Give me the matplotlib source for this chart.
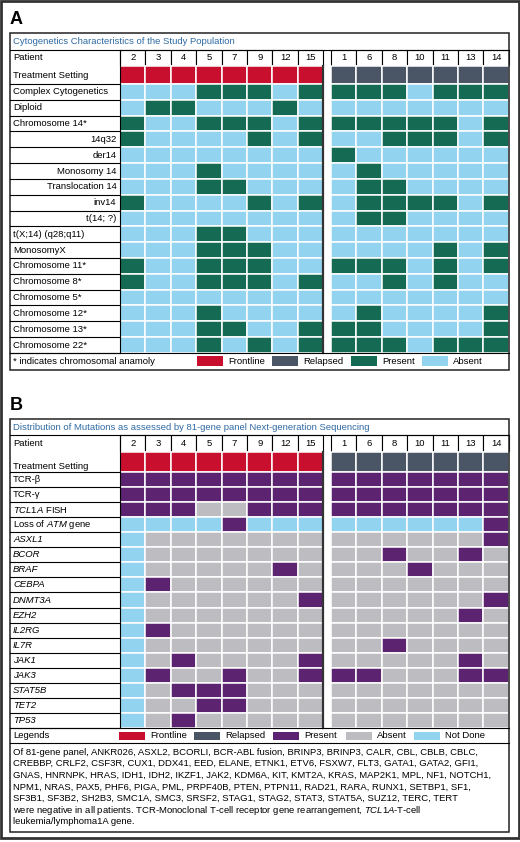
import matplotlib.pyplot as plt
from matplotlib.patches import Rectangle

plt.rcParams['font.family'] = ['Liberation Sans', 'DejaVu Sans']
plt.rcParams['mathtext.fontset'] = 'custom'
plt.rcParams['mathtext.it'] = 'Liberation Sans:italic'
plt.rcParams['mathtext.rm'] = 'Liberation Sans'

# patients
front_ids = ['2', '3', '4', '5', '7', '9', '12', '15']
relapse_ids = ['1', '6', '8', '10', '11', '13', '14']

# panel A: cytogenetics (1 = present, 0 = absent)
cyto_labels = ['Complex Cytogenetics', 'Diploid', 'Chromosome 14*', '14q32', 'der14',
               'Monosomy 14', 'Translocation 14', 'inv14', 't(14; ?)', 't(X;14) (q28;q11)',
               'MonosomyX', 'Chromosome 11*', 'Chromosome 8*', 'Chromosome 5*',
               'Chromosome 12*', 'Chromosome 13*', 'Chromosome 22*']
cyto_sub = ['14q32', 'der14', 'Monosomy 14', 'Translocation 14', 'inv14', 't(14; ?)']
cyto_front = ['00011101', '01100010', '10011101', '10000101', '00000000', '00010000',
              '00011000', '10000101', '00000000', '00011000', '00011100', '10011100',
              '10011101', '00000000', '00010000', '00011001', '00010101']
cyto_relapse = ['1110111', '0000000', '1111101', '0011101', '1000000', '0100000',
                '0110000', '0111101', '0110000', '0000000', '0000101', '1110101',
                '0010100', '0000000', '0100001', '1100001', '1110111']

# panel B: mutations (P = present, A = absent, N = not done)
mut_labels = ['TCR-β', 'TCR-γ', r'$\mathit{TCL1A}$ FISH', r'Loss of $\mathit{ATM}$ gene',
              'ASXL1', 'BCOR', 'BRAF', 'CEBPA', 'DNMT3A', 'EZH2', 'IL2RG', 'IL7R',
              'JAK1', 'JAK3', 'STAT5B', 'TET2', 'TP53']
mut_italic = ['ASXL1', 'BCOR', 'BRAF', 'CEBPA', 'DNMT3A', 'EZH2', 'IL2RG', 'IL7R',
              'JAK1', 'JAK3', 'STAT5B', 'TET2', 'TP53']
mut_front = ['PPPPPPPP', 'PPPPPPPP', 'PPPAAPPP', 'NNNNPNNN', 'NAAAAAAA', 'NAAAAAAA',
             'NAAAAAPA', 'NPAAAAAA', 'NAAAAAAP', 'NAAAAAAA', 'NPAAAAAA', 'NAAAAAAA',
             'NAPAAAAP', 'NPAAPAAP', 'NAPPPAAA', 'NAAPPAAA', 'NAPAAAAA']
mut_relapse = ['PPPPPPP', 'PPPPPPP', 'PPPPPPP', 'NNNNNNP', 'AAAAAAP', 'AAPAAPA',
               'AAAPAAA', 'AAAAAAA', 'AAAAAAP', 'AAAAAPA', 'AAAAAAA', 'AAPAAAA',
               'AAAAAPA', 'PPAAAPP', 'AAAAAAA', 'AAAAAAA', 'AAAAAAA']

footnote = [
    'Of 81-gene panel, ANKR026, ASXL2, BCORLI, BCR-ABL fusion, BRINP3, BRINP3, CALR, CBL, CBLB, CBLC,',
    'CREBBP, CRLF2, CSF3R, CUX1, DDX41, EED, ELANE, ETNK1, ETV6, FSXW7, FLT3, GATA1, GATA2, GFI1,',
    'GNAS, HNRNPK, HRAS, IDH1, IDH2, IKZF1, JAK2, KDM6A, KIT, KMT2A, KRAS, MAP2K1, MPL, NF1, NOTCH1,',
    'NPM1, NRAS, PAX5, PHF6, PIGA, PML, PRPF40B, PTEN, PTPN11, RAD21, RARA, RUNX1, SETBP1, SF1,',
    'SF3B1, SF3B2, SH2B3, SMC1A, SMC3, SRSF2, STAG1, STAG2, STAT3, STAT5A, SUZ12, TERC, TERT',
    r'were negative in all patients. TCR-Monoclonal T-cell receptor gene rearrangement, $\mathit{TCL1A}$-T-cell',
    'leukemia/lymphoma1A gene.',
]

RED = '#c8102e'
SLATE = '#4a5666'
GREEN = '#146a52'
LBLUE = '#92d3f0'
PURPLE = '#5c2370'
GRAY = '#bdbdc1'
TBLUE = '#2f6aa3'
FS = 6.8

L, LAB, R = 10, 119.5, 509
X0, X1, CW = 120, 331, 25.4

fig = plt.figure(figsize=(5.2, 8.42), dpi=100)
ax = fig.add_axes([0, 0, 1, 1])
ax.set_xlim(0, 520)
ax.set_ylim(842, 0)
ax.axis('off')


def col_x(j):
    return X0 + j * CW if j < 8 else X1 + (j - 8) * CW


def cell(x, y, w, h, color):
    ax.add_patch(Rectangle((x, y), w, h, facecolor=color, edgecolor='white', lw=1.1))


def panel(top, letter, title, title_h, pat_h, treat_h, row_h, labels, front, relapse,
          cmap, sub=(), italic=(), treat_va=0.5):
    ax.text(L, top - 13, letter, fontsize=13, fontweight='bold', va='center')
    ids = front_ids + relapse_ids
    ax.text(L + 3, top + title_h / 2, title, color=TBLUE, fontsize=FS, va='center')
    y = top + title_h
    ax.plot([L, R], [y, y], color='black', lw=0.8)
    # patient header
    ax.text(L + 3, y + pat_h / 2, 'Patient', fontsize=FS, va='center')
    for j, pid in enumerate(ids):
        ax.add_patch(Rectangle((col_x(j), y), CW, pat_h, facecolor='white',
                               edgecolor='black', lw=0.8))
        ax.text(col_x(j) + CW / 2, y + pat_h / 2, pid, fontsize=FS, ha='center', va='center')
    grid_top = y + pat_h
    y = grid_top
    # treatment setting
    ax.text(L + 3, y + treat_h * treat_va, 'Treatment Setting', fontsize=FS, va='center')
    for j in range(len(ids)):
        cell(col_x(j), y, CW, treat_h, RED if j < 8 else SLATE)
    ax.plot([L, LAB], [y + treat_h, y + treat_h], color='black', lw=0.8)
    y += treat_h
    for i, lab in enumerate(labels):
        codes = front[i] + relapse[i]
        for j, c in enumerate(codes):
            cell(col_x(j), y, CW, row_h, cmap[c])
        style = 'italic' if lab in italic else 'normal'
        if lab in sub:
            ax.text(LAB - 3, y + row_h / 2, lab, fontsize=FS, ha='right', va='center')
        else:
            ax.text(L + 3, y + row_h / 2, lab, fontsize=FS, va='center', style=style)
        ax.plot([L, LAB], [y + row_h, y + row_h], color='black', lw=0.8)
        y += row_h
    ax.plot([LAB, LAB], [top + title_h, y], color='black', lw=0.8)
    ax.plot([col_x(7) + CW + 0.3] * 2, [grid_top, y], color='#333333', lw=1.6)
    ax.plot([L, R], [y, y], color='black', lw=0.8)
    return y


def legend_row(y, h, first, items):
    ax.text(L + 3, y + h / 2, first, fontsize=FS, va='center')
    for x, color, name in items:
        ax.add_patch(Rectangle((x, y + 3.5), 26, h - 7, facecolor=color, edgecolor='none'))
        ax.text(x + 31, y + h / 2, name, fontsize=FS, va='center')


# panel A
ya = panel(33, 'A', 'Cytogenetics Characteristics of the Study Population', 17, 16, 18, 15.82,
           cyto_labels, cyto_front, cyto_relapse, {'1': GREEN, '0': LBLUE}, sub=cyto_sub)
legend_row(ya, 17, '* indicates chromosomal anamoly',
           [(197, RED, 'Frontline'), (272, SLATE, 'Relapsed'),
            (351, GREEN, 'Present'), (422, LBLUE, 'Absent')])
ax.add_patch(Rectangle((L, 33), R - L, ya + 17 - 33, facecolor='none', edgecolor='#222222', lw=1.1))

# panel B
yb = panel(419, 'B', 'Distribution of Mutations as assessed by 81-gene panel Next-generation Sequencing',
           16, 17, 20, 15.06, mut_labels, mut_front, mut_relapse,
           {'P': PURPLE, 'A': GRAY, 'N': LBLUE}, italic=mut_italic, treat_va=0.72)
legend_row(yb, 15, 'Legends',
           [(119, RED, 'Frontline'), (194, SLATE, 'Relapsed'), (273, PURPLE, 'Present'),
            (346, GRAY, 'Absent'), (414, LBLUE, 'Not Done')])
ax.plot([L, R], [yb + 15, yb + 15], color='black', lw=0.8)
for k, line in enumerate(footnote):
    ax.text(L + 3, yb + 24 + k * 11.6, line, fontsize=FS, va='center')
ax.add_patch(Rectangle((L, 419), R - L, 832 - 419, facecolor='none', edgecolor='#222222', lw=1.1))

# outer frame
ax.add_patch(Rectangle((1, 1), 517.5, 837, facecolor='none', edgecolor='#333333', lw=2))

fig.savefig('out.png', dpi=100)
